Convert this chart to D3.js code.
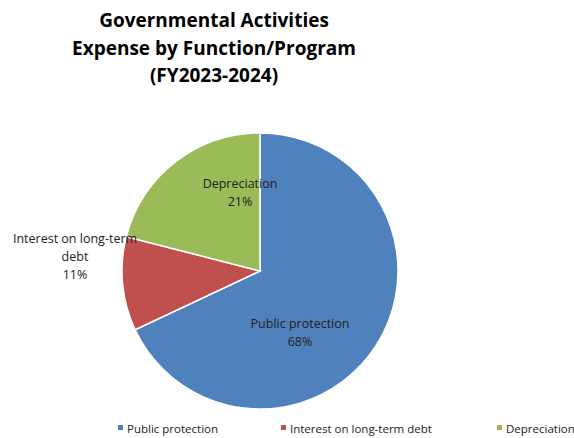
<!DOCTYPE html>
<html>
<head>
<meta charset="utf-8"/>
<script src="https://d3js.org/d3.v7.min.js"></script>
<style>
  body { margin: 0; background: #fff; }
  text { font-family: "Open Sans", "Liberation Sans", sans-serif; fill: #222; }
</style>
</head>
<body>
<script>
const categories = ["Public protection", "Interest on long-term debt", "Depreciation"];
const shares = [68, 11, 21];
const colors = ["#4F81BD", "#C0504D", "#9BBB59"];
const titleLines = ["Governmental Activities", "Expense by Function/Program", "(FY2023-2024)"];
// label lines as they wrap in the chart
const labelLines = [["Public protection", "68%"], ["Interest on long-term", "debt", "11%"], ["Depreciation", "21%"]];

const width = 574, height = 438;
const cx = 260, cy = 271, r = 138;

const svg = d3.select("body").append("svg")
  .attr("width", width).attr("height", height);

svg.append("g").selectAll("text")
  .data(titleLines).join("text")
  .attr("x", 214).attr("y", (d, i) => 27 + i * 27.5)
  .attr("text-anchor", "middle")
  .style("font-weight", "bold").style("font-size", "19px")
  .style("fill", "#000")
  .text(d => d);

const data = categories.map((c, i) => ({ name: c, value: shares[i], color: colors[i], lines: labelLines[i] }));

const pie = d3.pie().value(d => d.value).sort(null);
const arc = d3.arc().innerRadius(0).outerRadius(r);
const arcs = pie(data);

const g = svg.append("g").attr("transform", `translate(${cx},${cy})`);
g.selectAll("path").data(arcs).join("path")
  .attr("d", arc)
  .attr("fill", d => d.data.color)
  .attr("stroke", "#fff").attr("stroke-width", 1.5);

// label anchor positions (relative to centre)
const labelPos = [[40, 57], [-185, -28], [-20, -83]];
const labels = g.selectAll("g.lab").data(arcs).join("g")
  .attr("class", "lab")
  .attr("transform", (d, i) => `translate(${labelPos[i][0]},${labelPos[i][1]})`);
labels.each(function(d) {
  d3.select(this).selectAll("text").data(d.data.lines).join("text")
    .attr("y", (t, j) => j * 18)
    .attr("text-anchor", "middle")
    .style("font-size", "12.5px")
    .text(t => t);
});

const legX = [118, 281, 497];
const leg = svg.append("g").selectAll("g").data(data).join("g")
  .attr("transform", (d, i) => `translate(${legX[i]},429)`);
leg.append("rect").attr("x", 0).attr("y", -4).attr("width", 5).attr("height", 5)
  .attr("fill", d => d.color);
leg.append("text").attr("x", 9).attr("y", 4)
  .style("font-size", "11.5px")
  .text(d => d.name);
</script>
</body>
</html>
